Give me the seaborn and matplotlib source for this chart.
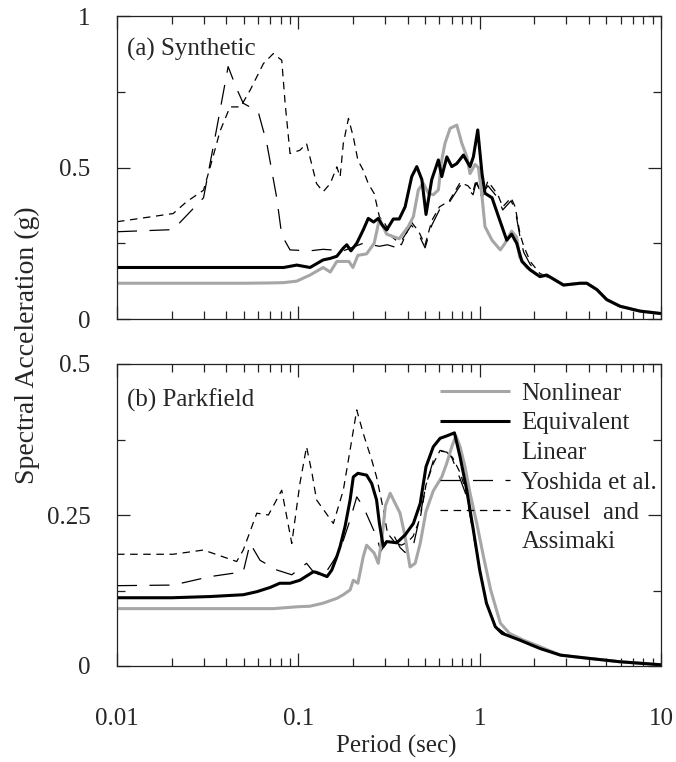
import numpy as np
import pandas as pd
import matplotlib
matplotlib.use("Agg")
import matplotlib.pyplot as plt
from matplotlib.lines import Line2D
from matplotlib.ticker import FixedLocator, NullFormatter, LogLocator
import seaborn as sns

# ---------------- data ----------------
# (a) Synthetic
T_nl_a = [0.01, 0.02, 0.05, 0.07, 0.083, 0.098, 0.116, 0.137, 0.15, 0.163, 0.19, 0.2, 0.213, 0.238,
          0.262, 0.28, 0.307, 0.34, 0.36, 0.404, 0.431, 0.459, 0.489, 0.521, 0.555, 0.592, 0.618,
          0.644, 0.687, 0.748, 0.797, 0.849, 0.885, 0.943, 0.984, 1.03, 1.07, 1.17, 1.30, 1.38,
          1.50, 1.60, 1.66, 1.82, 2.15, 2.34, 2.5, 2.9, 3.58, 3.9, 4.43, 5.02, 5.95, 7.67, 10.0]
sa_nl_a = [0.118, 0.118, 0.118, 0.119, 0.12, 0.125, 0.145, 0.17, 0.155, 0.19, 0.19, 0.17, 0.21, 0.215,
           0.25, 0.33, 0.28, 0.27, 0.265, 0.305, 0.338, 0.426, 0.448, 0.415, 0.41, 0.426, 0.525,
           0.58, 0.629, 0.64, 0.58, 0.536, 0.48, 0.51, 0.5, 0.405, 0.305, 0.26, 0.228, 0.25,
           0.29, 0.27, 0.205, 0.17, 0.14, 0.145, 0.135, 0.112, 0.118, 0.118, 0.097, 0.064, 0.042, 0.026, 0.018]

T_el_a = [0.01, 0.05, 0.083, 0.098, 0.116, 0.137, 0.15, 0.163, 0.177, 0.185, 0.195, 0.21, 0.228,
          0.243, 0.26, 0.276, 0.29, 0.307, 0.334, 0.36, 0.388, 0.422, 0.45, 0.48, 0.506, 0.544,
          0.592, 0.618, 0.659, 0.702, 0.748, 0.813, 0.885, 0.923, 0.976, 1.03, 1.07, 1.17, 1.27,
          1.41, 1.50, 1.60, 1.71, 1.90, 2.15, 2.34, 2.50, 2.90, 3.58, 3.90, 4.43, 5.02, 5.95, 7.67, 10.0]
sa_el_a = [0.17, 0.17, 0.17, 0.178, 0.17, 0.195, 0.2, 0.207, 0.234, 0.245, 0.225, 0.25, 0.294,
           0.332, 0.32, 0.332, 0.31, 0.294, 0.33, 0.33, 0.37, 0.47, 0.503, 0.46, 0.345, 0.46,
           0.525, 0.47, 0.535, 0.503, 0.513, 0.541, 0.503, 0.535, 0.624, 0.48, 0.415, 0.4, 0.338,
           0.26, 0.28, 0.25, 0.19, 0.162, 0.14, 0.145, 0.135, 0.112, 0.118, 0.118, 0.097, 0.064, 0.042, 0.026, 0.018]

T_yo_a = [0.01, 0.0204, 0.030, 0.0355, 0.041, 0.0457, 0.0497, 0.060, 0.067, 0.076, 0.081, 0.09,
          0.116, 0.137, 0.177, 0.228, 0.28, 0.31, 0.35, 0.42, 0.46, 0.5, 0.545, 0.60, 0.68, 0.78,
          0.86, 0.92, 0.955, 1.03, 1.11, 1.26, 1.34, 1.49, 1.57, 1.67, 1.75, 1.9, 2.15, 2.5, 2.9,
          3.58, 3.9, 4.43, 5.02, 5.95, 7.67, 10.0]
sa_yo_a = [0.288, 0.295, 0.40, 0.63, 0.833, 0.76, 0.712, 0.685, 0.58, 0.40, 0.277, 0.228,
           0.225, 0.23, 0.225, 0.25, 0.24, 0.245, 0.235, 0.31, 0.28, 0.235, 0.31, 0.36, 0.385, 0.44,
           0.43, 0.41, 0.45, 0.41, 0.44, 0.40, 0.36, 0.39, 0.36, 0.27, 0.22, 0.18, 0.145, 0.135, 0.112,
           0.118, 0.118, 0.097, 0.064, 0.042, 0.026, 0.018]

T_ka_a = [0.01, 0.0204, 0.0242, 0.030, 0.0326, 0.037, 0.042, 0.048, 0.0542, 0.0642, 0.0728, 0.081,
          0.0846, 0.09, 0.102, 0.111, 0.126, 0.137, 0.15, 0.163, 0.17, 0.177, 0.189, 0.201, 0.213,
          0.228, 0.243, 0.262, 0.28, 0.30, 0.33, 0.37, 0.42, 0.46, 0.5, 0.545, 0.60, 0.68, 0.78,
          0.86, 0.92, 0.955, 1.03, 1.11, 1.26, 1.34, 1.49, 1.57, 1.67, 1.75, 1.9, 2.15, 2.5, 2.9,
          3.58, 3.9, 4.43, 5.02, 5.95, 7.67, 10.0]
sa_ka_a = [0.321, 0.348, 0.387, 0.425, 0.50, 0.62, 0.70, 0.70, 0.755, 0.843, 0.876, 0.854,
           0.711, 0.546, 0.557, 0.579, 0.447, 0.42, 0.447, 0.502, 0.469, 0.579, 0.662, 0.601, 0.524,
           0.491, 0.447, 0.414, 0.337, 0.315, 0.27, 0.245, 0.32, 0.29, 0.245, 0.325, 0.37, 0.39, 0.45,
           0.44, 0.42, 0.46, 0.40, 0.455, 0.41, 0.37, 0.40, 0.37, 0.28, 0.24, 0.19, 0.15, 0.135, 0.112,
           0.118, 0.118, 0.097, 0.064, 0.042, 0.026, 0.018]

# (b) Parkfield
T_nl_b = [0.01, 0.05, 0.073, 0.098, 0.116, 0.137, 0.163, 0.177, 0.193, 0.201, 0.213, 0.228, 0.238,
          0.262, 0.276, 0.29, 0.302, 0.321, 0.364, 0.388, 0.413, 0.441, 0.47, 0.506, 0.555, 0.618,
          0.659, 0.702, 0.74, 0.78, 0.83, 0.885, 0.964, 1.05, 1.15, 1.30, 1.46, 1.74, 2.15, 2.79,
          3.9, 5.95, 10.0]
sa_nl_b = [0.095, 0.095, 0.095, 0.098, 0.099, 0.104, 0.112, 0.118, 0.126, 0.142, 0.137, 0.181, 0.2,
           0.187, 0.17, 0.215, 0.265, 0.286, 0.253, 0.214, 0.164, 0.17, 0.203, 0.256, 0.29, 0.313,
           0.336, 0.363, 0.381, 0.363, 0.33, 0.286, 0.236, 0.181, 0.126, 0.071, 0.054, 0.043, 0.032, 0.018,
           0.013, 0.007, 0.002]

T_el_b = [0.01, 0.02, 0.0326, 0.0497, 0.059, 0.0698, 0.079, 0.09, 0.102, 0.121, 0.126, 0.144, 0.153,
          0.163, 0.17, 0.181, 0.193, 0.201, 0.213, 0.238, 0.254, 0.27, 0.28, 0.294, 0.307, 0.349,
          0.388, 0.431, 0.47, 0.506, 0.555, 0.605, 0.659, 0.726, 0.78, 0.849, 0.923, 1.0, 1.09, 1.22,
          1.33, 1.66, 2.15, 2.79, 3.9, 5.95, 10.0]
sa_el_b = [0.113, 0.113, 0.115, 0.118, 0.123, 0.13, 0.137, 0.137, 0.142, 0.156, 0.155, 0.148, 0.159,
           0.181, 0.198, 0.231, 0.275, 0.313, 0.319, 0.316, 0.302, 0.275, 0.236, 0.198, 0.206, 0.204,
           0.217, 0.236, 0.269, 0.33, 0.363, 0.377, 0.381, 0.386, 0.346, 0.291, 0.225, 0.159, 0.104, 0.065,
           0.054, 0.043, 0.029, 0.018, 0.013, 0.007, 0.002]

T_yo_b = [0.01, 0.0204, 0.0326, 0.0497, 0.0542, 0.0615, 0.076, 0.092, 0.111, 0.121, 0.137, 0.153,
          0.17, 0.193, 0.21, 0.228, 0.27, 0.285, 0.30, 0.334, 0.364, 0.388, 0.431, 0.47, 0.506, 0.555,
          0.605, 0.659, 0.702, 0.78, 0.849, 0.92, 1.0, 1.09, 1.22, 1.4, 1.7, 2.15, 2.79, 3.9, 5.95, 10.0]
sa_yo_b = [0.133, 0.134, 0.148, 0.156, 0.203, 0.175, 0.159, 0.151, 0.17, 0.156, 0.148, 0.17,
           0.192, 0.242, 0.28, 0.264, 0.214, 0.19, 0.2, 0.218, 0.196, 0.188, 0.2, 0.25, 0.3, 0.34,
           0.356, 0.354, 0.345, 0.31, 0.28, 0.22, 0.16, 0.106, 0.066, 0.052, 0.043, 0.03, 0.018, 0.013,
           0.007, 0.002]

T_ka_b = [0.01, 0.0204, 0.03, 0.0457, 0.0497, 0.059, 0.0684, 0.081, 0.092, 0.102, 0.111, 0.119,
          0.126, 0.156, 0.177, 0.193, 0.21, 0.228, 0.254, 0.27, 0.294, 0.31, 0.34, 0.37, 0.4, 0.43,
          0.47, 0.506, 0.555, 0.605, 0.659, 0.71, 0.78, 0.85, 0.92, 1.0, 1.09, 1.22, 1.4, 1.7, 2.15,
          2.79, 3.9, 5.95, 10.0]
sa_ka_b = [0.185, 0.185, 0.192, 0.173, 0.192, 0.253, 0.25, 0.291, 0.203, 0.302, 0.363, 0.319,
           0.275, 0.236, 0.291, 0.358, 0.424, 0.385, 0.341, 0.313, 0.26, 0.22, 0.205, 0.2, 0.205, 0.215,
           0.245, 0.3, 0.335, 0.357, 0.354, 0.345, 0.32, 0.285, 0.225, 0.16, 0.105, 0.066, 0.052, 0.043,
           0.03, 0.018, 0.013, 0.007, 0.002]

legend_labels = ["Nonlinear", "Equivalent", "Linear", "Yoshida et al.", "Kausel  and", "Assimaki"]
panel_titles = ["(a) Synthetic", "(b) Parkfield"]
xtick_vals = [0.01, 0.1, 1, 10]
xtick_text = ["0.01", "0.1", "1", "10"]

# ---------------- styling ----------------
sns.set_style("ticks")
plt.rcParams["font.family"] = ["Liberation Serif", "DejaVu Serif"]
plt.rcParams["font.size"] = 18
plt.rcParams["lines.solid_capstyle"] = "butt"

fig = plt.figure(figsize=(6.76, 7.62), dpi=100)
L, W = 117 / 676, 544 / 676
ax_a = fig.add_axes([L, 1 - 319 / 762, W, 303 / 762])
ax_b = fig.add_axes([L, 1 - 666 / 762, W, 302 / 762])

GRAY = "#a6a6a6"
styles = dict(
    nl=dict(color=GRAY, lw=2.2),
    el=dict(color="black", lw=2.2),
    yo=dict(color="black", lw=0.9, linestyle=(0, (16, 10))),
    ka=dict(color="black", lw=0.9, linestyle=(0, (6, 4.5))),
)

series_a = [(T_nl_a, sa_nl_a, "nl"), (T_el_a, sa_el_a, "el"), (T_yo_a, sa_yo_a, "yo"), (T_ka_a, sa_ka_a, "ka")]
series_b = [(T_nl_b, sa_nl_b, "nl"), (T_el_b, sa_el_b, "el"), (T_yo_b, sa_yo_b, "yo"), (T_ka_b, sa_ka_b, "ka")]

def draw(ax, series):
    order = ["yo", "ka", "nl", "el"]
    for key in order:
        for T, sa, k in series:
            if k == key:
                sns.lineplot(x=np.array(T), y=np.array(sa), ax=ax, sort=False,
                             estimator=None, **styles[k])

draw(ax_a, series_a)
draw(ax_b, series_b)

for ax, ylim, maj, maj_lab, mnr, title, ty in [
    (ax_a, (0, 1), [0, 0.5, 1], ["0", "0.5", "1"], [0.25, 0.75], panel_titles[0], 0.888),
    (ax_b, (0, 0.5), [0, 0.25, 0.5], ["0", "0.25", "0.5"], [0.125, 0.375], panel_titles[1], 0.88),
]:
    ax.set_xscale("log")
    ax.set_xlim(0.01, 10)
    ax.set_ylim(*ylim)
    ax.set_yticks(maj)
    ax.set_yticklabels(maj_lab)
    ax.yaxis.set_minor_locator(FixedLocator(mnr))
    ax.set_xticks(xtick_vals)
    ax.set_xticklabels(xtick_text)
    ax.xaxis.set_minor_locator(LogLocator(base=10, subs=np.arange(2, 10)))
    ax.xaxis.set_minor_formatter(NullFormatter())
    ax.tick_params(which="both", direction="in", top=True, right=True, width=0.9, color="#222222")
    ax.tick_params(which="major", length=9.5)
    ax.tick_params(which="minor", length=5.8)
    ax.tick_params(axis="y", which="major", pad=19, labelsize=18)
    ax.tick_params(axis="x", which="major", pad=30, labelsize=18)
    for s in ax.spines.values():
        s.set_linewidth(0.9)
        s.set_color("#222222")
    ax.set_xlabel("")
    ax.set_ylabel("")
    ax.text(0.018, ty, title, transform=ax.transAxes, ha="left", va="center", fontsize=18)

ax_a.tick_params(axis="x", labelbottom=False)

# legend
blank = Line2D([], [], color="none")
h_nl = Line2D([], [], **styles["nl"])
h_el = Line2D([], [], **styles["el"])
h_yo = Line2D([], [], **styles["yo"])
h_ka = Line2D([], [], **styles["ka"])
ax_b.legend([h_nl, h_el, blank, h_yo, h_ka, blank], legend_labels, loc="upper left",
            bbox_to_anchor=(0.594, 0.94), frameon=False, borderpad=0, borderaxespad=0,
            handlelength=2.8, handletextpad=0.45, labelspacing=0.29, fontsize=18)

fig.text(396 / 676, 1 - 746 / 762, "Period (sec)", ha="center", va="center", fontsize=18)
fig.text(27 / 676, 1 - 345 / 762, "Spectral Acceleration (g)", ha="center", va="center",
         rotation=90, fontsize=20)

fig.savefig("out.png", dpi=100)
